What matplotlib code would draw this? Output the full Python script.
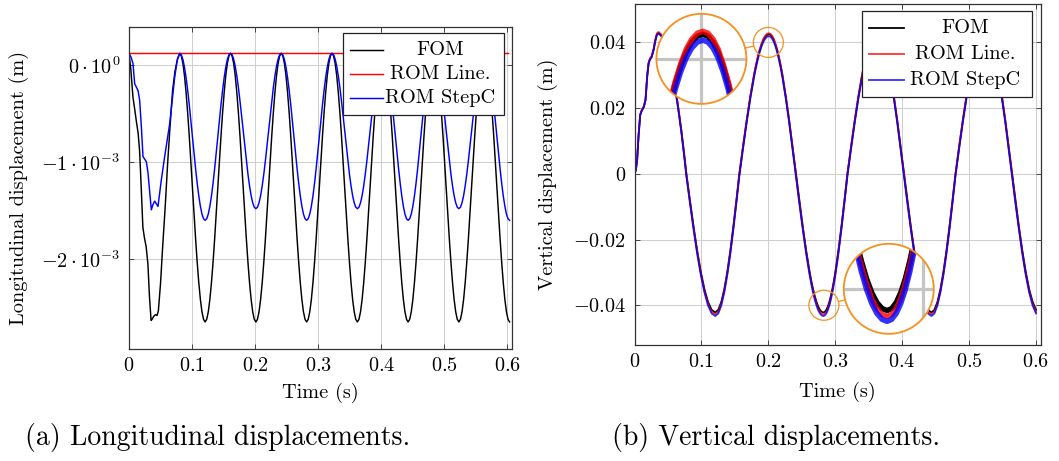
"""Longitudinal and vertical displacement of the FOM against the two ROMs.

Left panel: longitudinal displacement, right panel: vertical displacement
with two magnifier circles (TikZ "spy" style) on a peak and a trough.
"""

import matplotlib

matplotlib.use("Agg")  # headless
import matplotlib.pyplot as plt
import numpy as np
from matplotlib.lines import Line2D
from matplotlib.patches import Circle, Rectangle
from matplotlib.transforms import IdentityTransform

plt.rcParams["font.family"] = "cmr10"
plt.rcParams["mathtext.fontset"] = "cm"
plt.rcParams["axes.formatter.use_mathtext"] = True

# ---------------------------------------------------------------- data --
# left panel, values in 1e-3 m
long_fom_t_start = [0.0, 0.003, 0.0063, 0.009, 0.0115, 0.0145, 0.0168, 0.019,
                    0.022, 0.0245, 0.0272, 0.030, 0.0325, 0.035, 0.0365, 0.039,
                    0.042, 0.0445, 0.0466, 0.050, 0.0534, 0.0575, 0.0613, 0.065,
                    0.0691, 0.073, 0.077]
long_fom_start = [0.124, -0.05, -0.33, -0.45, -0.57, -0.70, -0.88, -1.20,
                  -1.67, -1.78, -1.87, -2.05, -2.39, -2.63, -2.62, -2.59,
                  -2.57, -2.58, -2.53, -2.25, -1.87, -1.45, -1.01, -0.64,
                  -0.26, -0.06, 0.07]
long_stepc_t_start = [0.0, 0.0035, 0.0063, 0.009, 0.0143, 0.0169, 0.0196,
                      0.0222, 0.0275, 0.0302, 0.0354, 0.0378, 0.0407, 0.046,
                      0.0513, 0.0566, 0.0646, 0.0725, 0.0765]
long_stepc_start = [0.124, 0.08, 0.017, -0.19, -0.26, -0.36, -0.634,
                    -0.942, -0.993, -1.113, -1.49, -1.44, -1.40, -1.455,
                    -1.18, -0.94, -0.60, -0.12, 0.05]

# periodic part, read 32 times per period starting at the first peak
long_cycle_t = np.linspace(0.0805, 0.6037, 209)
long_fom_cycles = [
    0.124, 0.097, 0.019, -0.109, -0.282, -0.492, -0.731, -0.991,
    -1.261, -1.531, -1.791, -2.030, -2.240, -2.413, -2.541, -2.619,
    -2.646, -2.619, -2.541, -2.413, -2.240, -2.030, -1.791, -1.531,
    -1.261, -0.991, -0.731, -0.492, -0.282, -0.109, 0.019, 0.097,
    0.124, 0.097, 0.019, -0.109, -0.282, -0.492, -0.731, -0.991,
    -1.261, -1.531, -1.791, -2.030, -2.240, -2.413, -2.541, -2.619,
    -2.646, -2.619, -2.541, -2.413, -2.240, -2.030, -1.791, -1.531,
    -1.261, -0.991, -0.731, -0.492, -0.282, -0.109, 0.019, 0.097,
    0.124, 0.097, 0.019, -0.109, -0.282, -0.492, -0.731, -0.991,
    -1.261, -1.531, -1.791, -2.030, -2.240, -2.413, -2.541, -2.619,
    -2.646, -2.619, -2.541, -2.413, -2.240, -2.030, -1.791, -1.531,
    -1.261, -0.991, -0.731, -0.492, -0.282, -0.109, 0.019, 0.097,
    0.124, 0.097, 0.019, -0.109, -0.282, -0.492, -0.731, -0.991,
    -1.261, -1.531, -1.791, -2.030, -2.240, -2.413, -2.541, -2.619,
    -2.646, -2.619, -2.541, -2.413, -2.240, -2.030, -1.791, -1.531,
    -1.261, -0.991, -0.731, -0.492, -0.282, -0.109, 0.019, 0.097,
    0.124, 0.097, 0.019, -0.109, -0.282, -0.492, -0.731, -0.991,
    -1.261, -1.531, -1.791, -2.030, -2.240, -2.413, -2.541, -2.619,
    -2.646, -2.619, -2.541, -2.413, -2.240, -2.030, -1.791, -1.531,
    -1.261, -0.991, -0.731, -0.492, -0.282, -0.109, 0.019, 0.097,
    0.124, 0.097, 0.019, -0.109, -0.282, -0.492, -0.731, -0.991,
    -1.261, -1.531, -1.791, -2.030, -2.240, -2.413, -2.541, -2.619,
    -2.646, -2.619, -2.541, -2.413, -2.240, -2.030, -1.791, -1.531,
    -1.261, -0.991, -0.731, -0.492, -0.282, -0.109, 0.019, 0.097,
    0.124, 0.097, 0.019, -0.109, -0.282, -0.492, -0.731, -0.991,
    -1.261, -1.531, -1.791, -2.030, -2.240, -2.413, -2.541, -2.619,
    -2.646,
]
long_stepc_cycles = [
    0.124, 0.107, 0.059, -0.021, -0.128, -0.259, -0.407, -0.569,
    -0.737, -0.905, -1.067, -1.216, -1.346, -1.453, -1.533, -1.582,
    -1.598, -1.582, -1.533, -1.453, -1.346, -1.216, -1.067, -0.905,
    -0.737, -0.569, -0.407, -0.259, -0.128, -0.021, 0.059, 0.107,
    0.124, 0.109, 0.063, -0.011, -0.111, -0.232, -0.370, -0.521,
    -0.677, -0.833, -0.984, -1.122, -1.243, -1.343, -1.417, -1.463,
    -1.478, -1.463, -1.417, -1.343, -1.243, -1.122, -0.984, -0.833,
    -0.677, -0.521, -0.370, -0.232, -0.111, -0.011, 0.063, 0.109,
    0.124, 0.107, 0.059, -0.021, -0.128, -0.259, -0.407, -0.569,
    -0.737, -0.905, -1.067, -1.216, -1.346, -1.453, -1.533, -1.582,
    -1.598, -1.582, -1.533, -1.453, -1.346, -1.216, -1.067, -0.905,
    -0.737, -0.569, -0.407, -0.259, -0.128, -0.021, 0.059, 0.107,
    0.124, 0.109, 0.063, -0.011, -0.111, -0.232, -0.370, -0.521,
    -0.677, -0.833, -0.984, -1.122, -1.243, -1.343, -1.417, -1.463,
    -1.478, -1.463, -1.417, -1.343, -1.243, -1.122, -0.984, -0.833,
    -0.677, -0.521, -0.370, -0.232, -0.111, -0.011, 0.063, 0.109,
    0.124, 0.107, 0.059, -0.021, -0.128, -0.259, -0.407, -0.569,
    -0.737, -0.905, -1.067, -1.216, -1.346, -1.453, -1.533, -1.582,
    -1.598, -1.582, -1.533, -1.453, -1.346, -1.216, -1.067, -0.905,
    -0.737, -0.569, -0.407, -0.259, -0.128, -0.021, 0.059, 0.107,
    0.124, 0.109, 0.063, -0.011, -0.111, -0.232, -0.370, -0.521,
    -0.677, -0.833, -0.984, -1.122, -1.243, -1.343, -1.417, -1.463,
    -1.478, -1.463, -1.417, -1.343, -1.243, -1.122, -0.984, -0.833,
    -0.677, -0.521, -0.370, -0.232, -0.111, -0.011, 0.063, 0.109,
    0.124, 0.107, 0.059, -0.021, -0.128, -0.259, -0.407, -0.569,
    -0.737, -0.905, -1.067, -1.216, -1.346, -1.453, -1.533, -1.582,
    -1.598,
]
long_line_t = [0.0, 0.601]
long_line = [0.124, 0.124]

# right panel, values in m (read more densely around the two magnified spots)
vert_t = [
    0.0, 0.002, 0.004, 0.006, 0.0085, 0.011, 0.014, 0.0165, 0.019, 0.021,
    0.023, 0.0255, 0.0285, 0.031, 0.0335, 0.036, 0.038, 0.040, 0.045, 0.050,
    0.055, 0.060, 0.065, 0.070, 0.0745, 0.0775, 0.0829, 0.0883, 0.0937,
    0.0991, 0.1045, 0.1099, 0.1153,
    0.1207, 0.1252, 0.1297, 0.1342, 0.1387, 0.1432, 0.1477, 0.1522,
    0.1567, 0.1622, 0.1677, 0.1732, 0.1787, 0.18145, 0.1842, 0.18695,
    0.1897, 0.19245, 0.1952, 0.19795,
    0.2007, 0.20325, 0.2058, 0.2083, 0.2108, 0.21335, 0.2159, 0.21845,
    0.2210, 0.2260, 0.2311, 0.2361,
    0.2412, 0.2463, 0.2515, 0.2566, 0.2617, 0.26425, 0.2668, 0.2694,
    0.2720, 0.27455, 0.2771, 0.27965,
    0.2822, 0.28445, 0.2867, 0.28895, 0.2912, 0.29345, 0.2957, 0.29795,
    0.3002, 0.3047, 0.3092, 0.3137,
    0.3182, 0.3237, 0.3292, 0.3347, 0.3402, 0.3457, 0.3512, 0.3567,
    0.3622, 0.3673, 0.3723, 0.3774, 0.3825, 0.3875, 0.3926, 0.3976,
    0.4027, 0.4078, 0.4130, 0.4181, 0.4232, 0.4283, 0.4335, 0.4386,
    0.4437, 0.4482, 0.4527, 0.4572, 0.4617, 0.4662, 0.4707, 0.4752,
    0.4797, 0.4852, 0.4907, 0.4962, 0.5017, 0.5072, 0.5127, 0.5182,
    0.5237, 0.5288, 0.5338, 0.5389, 0.5440, 0.5490, 0.5541, 0.5591,
    0.5642, 0.5693, 0.5745, 0.5796, 0.5847, 0.5898, 0.5950, 0.6001,
]
vert_fom = [
    0.0, 0.0012, 0.0045, 0.0115, 0.0180, 0.0194, 0.0205, 0.0226, 0.0298, 0.0336,
    0.0349, 0.0356, 0.0378, 0.0405, 0.0425, 0.0429, 0.0425, 0.0421, 0.0406, 0.0375,
    0.0330, 0.0273, 0.0207, 0.0132, 0.0055, 0.0, -0.0082, -0.0161, -0.0234,
    -0.0298, -0.0351, -0.0390, -0.0414,
    -0.0422, -0.0414, -0.0390, -0.0351, -0.0298, -0.0234, -0.0161, -0.0082,
    0.0, 0.0083, 0.0163, 0.0236, 0.0301, 0.0329, 0.0353, 0.0375,
    0.0393, 0.0407, 0.0417, 0.0423,
    0.0425, 0.0423, 0.0417, 0.0407, 0.0393, 0.0375, 0.0353, 0.0329,
    0.0301, 0.0236, 0.0163, 0.0083,
    0.0, -0.0082, -0.0161, -0.0234, -0.0298, -0.0326, -0.0351, -0.0372,
    -0.0390, -0.0404, -0.0414, -0.0420,
    -0.0422, -0.0420, -0.0414, -0.0404, -0.0390, -0.0372, -0.0351, -0.0326,
    -0.0298, -0.0234, -0.0161, -0.0082,
    0.0, 0.0083, 0.0163, 0.0236, 0.0301, 0.0353, 0.0393, 0.0417,
    0.0425, 0.0417, 0.0393, 0.0353, 0.0301, 0.0236, 0.0163, 0.0083,
    0.0, -0.0082, -0.0161, -0.0234, -0.0298, -0.0351, -0.0390, -0.0414,
    -0.0422, -0.0414, -0.0390, -0.0351, -0.0298, -0.0234, -0.0161, -0.0082,
    0.0, 0.0083, 0.0163, 0.0236, 0.0301, 0.0353, 0.0393, 0.0417,
    0.0425, 0.0417, 0.0393, 0.0353, 0.0301, 0.0236, 0.0163, 0.0083,
    0.0, -0.0082, -0.0161, -0.0234, -0.0298, -0.0351, -0.0390, -0.0414,
]
vert_line = [
    0.0, 0.0012, 0.0045, 0.0115, 0.0181, 0.0195, 0.0206, 0.0228, 0.0300, 0.0338,
    0.0351, 0.0358, 0.0380, 0.0408, 0.0428, 0.0432, 0.0428, 0.0424, 0.0409, 0.0377,
    0.0332, 0.0275, 0.0208, 0.0133, 0.0055, 0.0, -0.0084, -0.0164, -0.0238,
    -0.0303, -0.0356, -0.0395, -0.0420,
    -0.0428, -0.0420, -0.0395, -0.0356, -0.0303, -0.0238, -0.0164, -0.0084,
    0.0, 0.0084, 0.0164, 0.0238, 0.0303, 0.0331, 0.0356, 0.0377,
    0.0395, 0.0410, 0.0420, 0.0426,
    0.0428, 0.0426, 0.0420, 0.0410, 0.0395, 0.0377, 0.0356, 0.0331,
    0.0303, 0.0238, 0.0164, 0.0084,
    0.0, -0.0084, -0.0164, -0.0238, -0.0303, -0.0331, -0.0356, -0.0377,
    -0.0395, -0.0410, -0.0420, -0.0426,
    -0.0428, -0.0426, -0.0420, -0.0410, -0.0395, -0.0377, -0.0356, -0.0331,
    -0.0303, -0.0238, -0.0164, -0.0084,
    0.0, 0.0084, 0.0164, 0.0238, 0.0303, 0.0356, 0.0395, 0.0420,
    0.0428, 0.0420, 0.0395, 0.0356, 0.0303, 0.0238, 0.0164, 0.0084,
    0.0, -0.0084, -0.0164, -0.0238, -0.0303, -0.0356, -0.0395, -0.0420,
    -0.0428, -0.0420, -0.0395, -0.0356, -0.0303, -0.0238, -0.0164, -0.0084,
    0.0, 0.0084, 0.0164, 0.0238, 0.0303, 0.0356, 0.0395, 0.0420,
    0.0428, 0.0420, 0.0395, 0.0356, 0.0303, 0.0238, 0.0164, 0.0084,
    0.0, -0.0084, -0.0164, -0.0238, -0.0303, -0.0356, -0.0395, -0.0420,
]
vert_stepc = [
    0.0, 0.0011, 0.0043, 0.0113, 0.0178, 0.0192, 0.0203, 0.0224, 0.0296, 0.0334,
    0.0347, 0.0354, 0.0376, 0.0403, 0.0423, 0.0427, 0.0423, 0.0419, 0.0403, 0.0371,
    0.0325, 0.0268, 0.0201, 0.0126, 0.0049, -0.0007, -0.0090, -0.0170, -0.0244,
    -0.0308, -0.0361, -0.0401, -0.0425,
    -0.0433, -0.0425, -0.0401, -0.0361, -0.0308, -0.0244, -0.0170, -0.0090,
    -0.0007, 0.0076, 0.0156, 0.0230, 0.0294, 0.0322, 0.0347, 0.0369,
    0.0387, 0.0401, 0.0411, 0.0417,
    0.0419, 0.0417, 0.0411, 0.0401, 0.0387, 0.0369, 0.0347, 0.0322,
    0.0294, 0.0230, 0.0156, 0.0076,
    -0.0007, -0.0090, -0.0170, -0.0244, -0.0308, -0.0336, -0.0361, -0.0383,
    -0.0401, -0.0415, -0.0425, -0.0431,
    -0.0433, -0.0431, -0.0425, -0.0415, -0.0401, -0.0383, -0.0361, -0.0336,
    -0.0308, -0.0244, -0.0170, -0.0090,
    -0.0007, 0.0076, 0.0156, 0.0230, 0.0294, 0.0347, 0.0387, 0.0411,
    0.0419, 0.0411, 0.0387, 0.0347, 0.0294, 0.0230, 0.0156, 0.0076,
    -0.0007, -0.0090, -0.0170, -0.0244, -0.0308, -0.0361, -0.0401, -0.0425,
    -0.0433, -0.0425, -0.0401, -0.0361, -0.0308, -0.0244, -0.0170, -0.0090,
    -0.0007, 0.0076, 0.0156, 0.0230, 0.0294, 0.0347, 0.0387, 0.0411,
    0.0419, 0.0411, 0.0387, 0.0347, 0.0294, 0.0230, 0.0156, 0.0076,
    -0.0007, -0.0090, -0.0170, -0.0244, -0.0308, -0.0361, -0.0401, -0.0425,
]

labels = ["FOM", "ROM Line.", "ROM StepC"]
time_ticks = [0.0, 0.1, 0.2, 0.3, 0.4, 0.5, 0.6]
time_tick_labels = ["$0$", "$0.1$", "$0.2$", "$0.3$", "$0.4$", "$0.5$", "$0.6$"]
long_ticks = [-2e-3, -1e-3, 0.0]
long_tick_labels = [r"$-2\cdot10^{-3}$", r"$-1\cdot10^{-3}$", r"$0\cdot10^{0}$"]
vert_ticks = [-0.04, -0.02, 0.0, 0.02, 0.04]
vert_tick_labels = ["$-0.04$", "$-0.02$", "$0$", "$0.02$", "$0.04$"]

# magnifier: (spied point, where the lens sits), both in data units
spies = [((0.2, 0.04), (0.1, 0.035)), ((0.283, -0.04), (0.38, -0.035))]

FS = 14.6
ORANGE = "#f7901e"
GRID = "#cfcfcf"


def style_axes(ax):
    ax.set_xlim(0, 0.6075)
    ax.set_xticks(time_ticks, labels=time_tick_labels)
    ax.grid(True, color=GRID, lw=0.75)
    ax.set_axisbelow(True)
    ax.tick_params(direction="in", length=3.5, width=0.7, color="#444444",
                   top=True, right=True, labelsize=FS, pad=6)
    for spine in ax.spines.values():
        spine.set_color("#333333")
        spine.set_linewidth(0.9)
    ax.set_xlabel("Time (s)", fontsize=FS)


def draw_legend(ax, styles):
    """pgfplots-like legend: handle on the left, centred label text."""
    x0, y0, x1, y1 = 0.560, 0.727, 0.978, 0.980
    ax.add_patch(Rectangle((x0, y0), x1 - x0, y1 - y0, transform=ax.transAxes,
                           facecolor="white", edgecolor="#222222", lw=0.9,
                           zorder=10))
    for (label, st), y in zip(zip(labels, styles), [0.930, 0.853, 0.778]):
        ax.add_line(Line2D([0.578, 0.664], [y, y], transform=ax.transAxes,
                           zorder=11, **st))
        ax.text(0.813, y, label, transform=ax.transAxes, ha="center",
                va="center", fontsize=FS, zorder=11)


def add_spy(ax, spied, lens, series, r_px=15, mag=3):
    fig = ax.figure
    to_px = ax.transData.transform
    c = to_px(spied)
    t = to_px(lens)
    R = r_px * mag
    W, H = fig.bbox.width, fig.bbox.height
    ax_in = fig.add_axes([(t[0] - R) / W, (t[1] - R) / H, 2 * R / W, 2 * R / H])
    ux = r_px / (to_px((1, 0))[0] - to_px((0, 0))[0])
    uy = r_px / (to_px((0, 1))[1] - to_px((0, 0))[1])
    ax_in.set_xlim(spied[0] - ux, spied[0] + ux)
    ax_in.set_ylim(spied[1] - uy, spied[1] + uy)
    ax_in.axis("off")
    ax_in.add_patch(Circle((0.5, 0.5), 0.5, transform=ax_in.transAxes,
                           facecolor="white", edgecolor="none", zorder=0))
    clip = Circle((0.5, 0.5), 0.5, transform=ax_in.transAxes)
    for x in time_ticks:
        ax_in.axvline(x, color="#c4c4c4", lw=2.3, zorder=1).set_clip_path(clip)
    for y in vert_ticks:
        ax_in.axhline(y, color="#c4c4c4", lw=2.3, zorder=1).set_clip_path(clip)
    for tt, yy, st in series:
        st = dict(st)
        st["lw"] = st["lw"] * mag
        ln, = ax_in.plot(tt, yy, zorder=2, solid_joinstyle="round", **st)
        ln.set_clip_path(clip)
    ax_in.add_patch(Circle((0.5, 0.5), 0.5, transform=ax_in.transAxes,
                           fill=False, edgecolor=ORANGE, lw=1.3, zorder=5,
                           clip_on=False))
    fig.add_artist(Circle(c, r_px, transform=IdentityTransform(), fill=False,
                          edgecolor=ORANGE, lw=0.9))
    u = (t - c) / np.hypot(*(t - c))
    p0 = c + u * r_px
    p1 = t - u * R
    fig.add_artist(Line2D([p0[0], p1[0]], [p0[1], p1[1]],
                          transform=IdentityTransform(), color=ORANGE, lw=0.9))


fig = plt.figure(figsize=(10.59, 4.61), dpi=100)
W, H = 1059, 461
ax1 = fig.add_axes([129 / W, (H - 349) / H, 383 / W, 322 / H])
ax2 = fig.add_axes([634.5 / W, (H - 345) / H, 406.5 / W, 341 / H])

# ---- (a) longitudinal -------------------------------------------------
mm = 1e-3
left_styles = [dict(color="black", lw=1.05), dict(color="#ff0000", lw=1.05),
               dict(color="#0000ff", lw=1.05)]
fom_t = np.concatenate([long_fom_t_start, long_cycle_t])
fom_v = np.concatenate([long_fom_start, long_fom_cycles]) * mm
stepc_t = np.concatenate([long_stepc_t_start, long_cycle_t])
stepc_v = np.concatenate([long_stepc_start, long_stepc_cycles]) * mm
ax1.plot(fom_t, fom_v, **left_styles[0])
ax1.plot(long_line_t, np.array(long_line) * mm, **left_styles[1])
ax1.plot(stepc_t, stepc_v, **left_styles[2])
style_axes(ax1)
ax1.set_ylim(-2.925e-3, 0.395e-3)
ax1.set_yticks(long_ticks, labels=long_tick_labels)
ax1.set_ylabel("Longitudinal displacement (m)", fontsize=FS)
ax1.yaxis.set_label_coords(-0.262, 0.5)
ax1.xaxis.set_label_coords(0.5, -0.106)
draw_legend(ax1, left_styles)

# ---- (b) vertical -----------------------------------------------------
right_styles = [dict(color="black", lw=1.3),
                dict(color="#ff0000", lw=1.3, alpha=0.8),
                dict(color="#0000ff", lw=1.3, alpha=0.8)]
vert_series = [(vert_t, vert_fom, right_styles[0]),
               (vert_t, vert_line, right_styles[1]),
               (vert_t, vert_stepc, right_styles[2])]
for tt, yy, st in vert_series:
    ax2.plot(tt, yy, **st)
style_axes(ax2)
ax2.set_ylim(-0.0521, 0.0517)
ax2.set_yticks(vert_ticks, labels=vert_tick_labels)
ax2.set_ylabel("Vertical displacement (m)", fontsize=FS)
ax2.yaxis.set_label_coords(-0.188, 0.5)
ax2.xaxis.set_label_coords(0.5, -0.1085)
draw_legend(ax2, right_styles)

for spied, lens in spies:
    add_spy(ax2, spied, lens, vert_series)

fig.text(217.5 / W, 1 - 437 / H, "(a) Longitudinal displacements.",
         ha="center", va="center", fontsize=20)
fig.text(776 / W, 1 - 437 / H, "(b) Vertical displacements.",
         ha="center", va="center", fontsize=20)

fig.savefig("out.png", dpi=100)
